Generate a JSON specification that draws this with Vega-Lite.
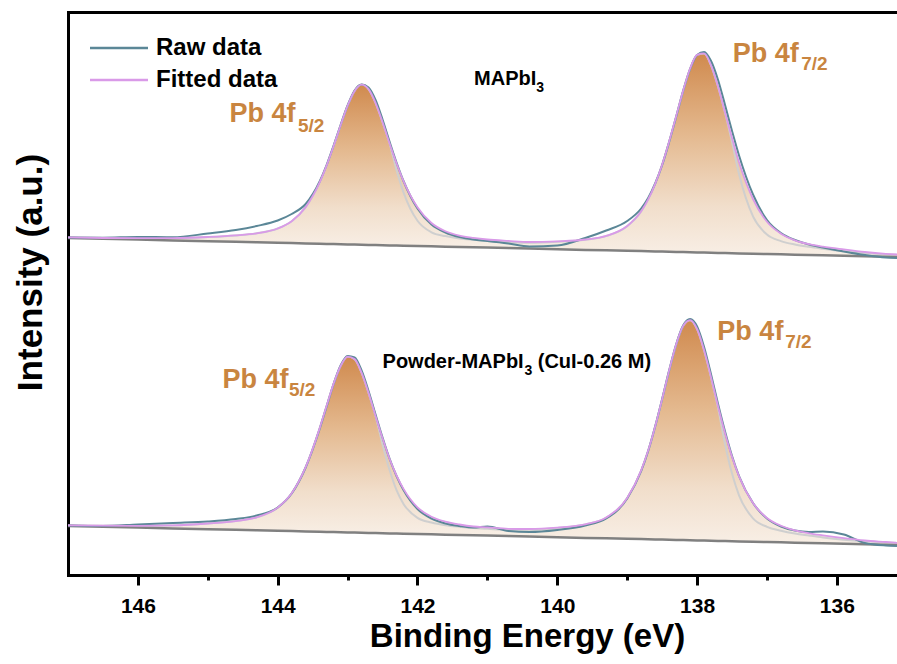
{
  "$schema": "https://vega.github.io/schema/vega-lite/v6.json",
  "width": 829,
  "height": 563,
  "autosize": {"type": "none"},
  "padding": {"left": 68, "top": 12, "right": 0, "bottom": 89},
  "config": {
    "font": "Liberation Sans",
    "view": {"stroke": null},
    "axis": {"grid": false},
    "axisLeft": {"domainColor": "black", "domainWidth": 3, "domainCap": "square", "ticks": false, "labels": false,
      "titleFontSize": 35, "titleFontWeight": "bold", "titleColor": "black", "titleFont": "Liberation Sans",
      "titleX": -27, "titleY": 260, "titleBaseline": "alphabetic", "titleAlign": "center", "titleAngle": -90}
  },
  "data": {
    "values": [
      {"s":"top","x":147.0,"base":337.0,"fit":337.6,"raw":337.5,"comp":337.6},
      {"s":"top","x":146.5,"base":336.2,"fit":337.0,"raw":337.3,"comp":337.0},
      {"s":"top","x":146.0,"base":335.4,"fit":336.8,"raw":338.0,"comp":336.8},
      {"s":"top","x":145.5,"base":334.6,"fit":336.9,"raw":337.8,"comp":336.9},
      {"s":"top","x":145.0,"base":333.8,"fit":338.0,"raw":341.5,"comp":338.0},
      {"s":"top","x":144.6,"base":333.2,"fit":339.6,"raw":345.0,"comp":339.6},
      {"s":"top","x":144.3,"base":332.7,"fit":341.7,"raw":349.0,"comp":341.7},
      {"s":"top","x":144.0,"base":332.2,"fit":346.5,"raw":354.5,"comp":346.5},
      {"s":"top","x":143.8,"base":331.9,"fit":353.8,"raw":361.0,"comp":353.8},
      {"s":"top","x":143.6,"base":331.6,"fit":367.9,"raw":371.0,"comp":367.9},
      {"s":"top","x":143.4,"base":331.2,"fit":392.6,"raw":393.5,"comp":392.6},
      {"s":"top","x":143.3,"base":331.1,"fit":409.6,"raw":410.0,"comp":409.6},
      {"s":"top","x":143.2,"base":330.9,"fit":429.0,"raw":429.5,"comp":429.0},
      {"s":"top","x":143.1,"base":330.7,"fit":449.7,"raw":450.0,"comp":449.7},
      {"s":"top","x":143.0,"base":330.6,"fit":469.3,"raw":469.5,"comp":469.3},
      {"s":"top","x":142.9,"base":330.4,"fit":484.1,"raw":484.5,"comp":484.1},
      {"s":"top","x":142.8,"base":330.3,"fit":490.4,"raw":490.5,"comp":490.4},
      {"s":"top","x":142.7,"base":330.1,"fit":485.9,"raw":487.5,"comp":485.9},
      {"s":"top","x":142.6,"base":330.0,"fit":472.2,"raw":475.0,"comp":472.2},
      {"s":"top","x":142.5,"base":329.8,"fit":453.0,"raw":455.5,"comp":453.0},
      {"s":"top","x":142.4,"base":329.6,"fit":431.8,"raw":433.5,"comp":431.8},
      {"s":"top","x":142.3,"base":329.5,"fit":411.8,"raw":412.5,"comp":405.1},
      {"s":"top","x":142.2,"base":329.3,"fit":393.9,"raw":394.0,"comp":382.7},
      {"s":"top","x":142.0,"base":329.0,"fit":367.7,"raw":366.5,"comp":354.2},
      {"s":"top","x":141.8,"base":328.7,"fit":352.0,"raw":350.5,"comp":342.7},
      {"s":"top","x":141.6,"base":328.3,"fit":343.7,"raw":342.5,"comp":338.9},
      {"s":"top","x":141.4,"base":328.0,"fit":339.4,"raw":338.0,"comp":336.5},
      {"s":"top","x":141.2,"base":327.7,"fit":337.1,"raw":335.5,"comp":335.2},
      {"s":"top","x":141.0,"base":327.4,"fit":335.5,"raw":334.0,"comp":334.1},
      {"s":"top","x":140.7,"base":326.9,"fit":334.1,"raw":331.5,"comp":332.9},
      {"s":"top","x":140.4,"base":326.4,"fit":333.0,"raw":328.5,"comp":332.2},
      {"s":"top","x":140.0,"base":325.8,"fit":333.7,"raw":329.5,"comp":333.2},
      {"s":"top","x":139.6,"base":325.1,"fit":335.5,"raw":337.0,"comp":335.3},
      {"s":"top","x":139.3,"base":324.7,"fit":339.1,"raw":344.5,"comp":338.9},
      {"s":"top","x":139.0,"base":324.2,"fit":349.0,"raw":354.0,"comp":348.8},
      {"s":"top","x":138.8,"base":323.9,"fit":363.8,"raw":366.5,"comp":363.6},
      {"s":"top","x":138.7,"base":323.7,"fit":375.6,"raw":377.0,"comp":375.4},
      {"s":"top","x":138.6,"base":323.5,"fit":391.2,"raw":391.5,"comp":391.0},
      {"s":"top","x":138.5,"base":323.4,"fit":410.2,"raw":410.0,"comp":410.0},
      {"s":"top","x":138.4,"base":323.2,"fit":433.4,"raw":433.0,"comp":433.2},
      {"s":"top","x":138.3,"base":323.0,"fit":458.6,"raw":458.0,"comp":458.4},
      {"s":"top","x":138.2,"base":322.9,"fit":484.3,"raw":484.0,"comp":484.1},
      {"s":"top","x":138.1,"base":322.7,"fit":506.5,"raw":506.0,"comp":506.3},
      {"s":"top","x":138.0,"base":322.6,"fit":520.2,"raw":520.0,"comp":520.0},
      {"s":"top","x":137.9,"base":322.4,"fit":521.6,"raw":523.0,"comp":521.4},
      {"s":"top","x":137.8,"base":322.3,"fit":509.6,"raw":514.0,"comp":509.6},
      {"s":"top","x":137.7,"base":322.1,"fit":488.4,"raw":495.0,"comp":488.4},
      {"s":"top","x":137.6,"base":321.9,"fit":462.6,"raw":470.0,"comp":462.6},
      {"s":"top","x":137.5,"base":321.8,"fit":436.9,"raw":444.0,"comp":432.9},
      {"s":"top","x":137.4,"base":321.6,"fit":412.7,"raw":419.5,"comp":400.9},
      {"s":"top","x":137.2,"base":321.3,"fit":376.0,"raw":380.5,"comp":358.6},
      {"s":"top","x":137.0,"base":321.0,"fit":353.2,"raw":355.0,"comp":340.4},
      {"s":"top","x":136.8,"base":320.7,"fit":341.3,"raw":342.0,"comp":333.9},
      {"s":"top","x":136.6,"base":320.3,"fit":334.7,"raw":335.0,"comp":330.5},
      {"s":"top","x":136.4,"base":320.0,"fit":330.8,"raw":330.5,"comp":328.2},
      {"s":"top","x":136.2,"base":319.7,"fit":328.3,"raw":327.5,"comp":326.3},
      {"s":"top","x":135.9,"base":319.2,"fit":325.5,"raw":323.5,"comp":323.7},
      {"s":"top","x":135.6,"base":318.7,"fit":323.0,"raw":320.0,"comp":321.8},
      {"s":"top","x":135.3,"base":318.3,"fit":321.2,"raw":317.5,"comp":320.6},
      {"s":"top","x":135.14,"base":318.0,"fit":320.5,"raw":317.0,"comp":320.1},
      {"s":"bot","x":147.0,"base":49.0,"fit":49.7,"raw":49.5,"comp":49.7},
      {"s":"bot","x":146.5,"base":48.2,"fit":49.3,"raw":49.0,"comp":49.3},
      {"s":"bot","x":146.0,"base":47.4,"fit":49.2,"raw":50.5,"comp":49.2},
      {"s":"bot","x":145.5,"base":46.6,"fit":49.6,"raw":52.0,"comp":49.6},
      {"s":"bot","x":145.0,"base":45.8,"fit":51.5,"raw":53.5,"comp":51.5},
      {"s":"bot","x":144.6,"base":45.2,"fit":53.9,"raw":56.0,"comp":53.9},
      {"s":"bot","x":144.3,"base":44.7,"fit":57.7,"raw":59.5,"comp":57.7},
      {"s":"bot","x":144.0,"base":44.2,"fit":67.4,"raw":67.5,"comp":67.4},
      {"s":"bot","x":143.8,"base":43.9,"fit":81.7,"raw":81.5,"comp":81.7},
      {"s":"bot","x":143.6,"base":43.6,"fit":107.8,"raw":107.5,"comp":107.8},
      {"s":"bot","x":143.4,"base":43.2,"fit":146.6,"raw":146.0,"comp":146.6},
      {"s":"bot","x":143.3,"base":43.1,"fit":169.2,"raw":168.5,"comp":169.2},
      {"s":"bot","x":143.2,"base":42.9,"fit":191.4,"raw":191.0,"comp":191.4},
      {"s":"bot","x":143.1,"base":42.7,"fit":209.0,"raw":209.5,"comp":209.0},
      {"s":"bot","x":143.0,"base":42.6,"fit":218.4,"raw":219.0,"comp":218.4},
      {"s":"bot","x":142.9,"base":42.4,"fit":215.9,"raw":217.5,"comp":215.9},
      {"s":"bot","x":142.8,"base":42.3,"fit":202.3,"raw":204.5,"comp":202.3},
      {"s":"bot","x":142.7,"base":42.1,"fit":182.1,"raw":184.0,"comp":182.1},
      {"s":"bot","x":142.6,"base":42.0,"fit":159.1,"raw":160.5,"comp":159.1},
      {"s":"bot","x":142.5,"base":41.8,"fit":136.7,"raw":137.5,"comp":130.6},
      {"s":"bot","x":142.4,"base":41.6,"fit":116.3,"raw":116.5,"comp":105.2},
      {"s":"bot","x":142.3,"base":41.5,"fit":99.5,"raw":99.0,"comp":84.8},
      {"s":"bot","x":142.2,"base":41.3,"fit":86.1,"raw":85.0,"comp":71.1},
      {"s":"bot","x":142.0,"base":41.0,"fit":67.6,"raw":66.0,"comp":57.2},
      {"s":"bot","x":141.8,"base":40.7,"fit":58.3,"raw":56.5,"comp":52.5},
      {"s":"bot","x":141.6,"base":40.3,"fit":53.4,"raw":51.5,"comp":49.8},
      {"s":"bot","x":141.4,"base":40.0,"fit":50.5,"raw":49.0,"comp":48.2},
      {"s":"bot","x":141.2,"base":39.7,"fit":48.5,"raw":47.5,"comp":47.0},
      {"s":"bot","x":141.0,"base":39.4,"fit":47.6,"raw":48.5,"comp":46.2},
      {"s":"bot","x":140.7,"base":38.9,"fit":46.2,"raw":44.0,"comp":45.2},
      {"s":"bot","x":140.4,"base":38.4,"fit":46.0,"raw":43.0,"comp":45.3},
      {"s":"bot","x":140.0,"base":37.8,"fit":47.4,"raw":45.0,"comp":47.1},
      {"s":"bot","x":139.6,"base":37.1,"fit":50.7,"raw":49.5,"comp":50.5},
      {"s":"bot","x":139.3,"base":36.7,"fit":57.5,"raw":56.5,"comp":57.3},
      {"s":"bot","x":139.0,"base":36.2,"fit":77.1,"raw":76.5,"comp":76.9},
      {"s":"bot","x":138.8,"base":35.9,"fit":104.6,"raw":104.0,"comp":104.4},
      {"s":"bot","x":138.7,"base":35.7,"fit":124.4,"raw":124.0,"comp":124.2},
      {"s":"bot","x":138.6,"base":35.5,"fit":148.6,"raw":148.5,"comp":148.4},
      {"s":"bot","x":138.5,"base":35.4,"fit":175.9,"raw":176.0,"comp":175.7},
      {"s":"bot","x":138.4,"base":35.2,"fit":204.6,"raw":204.5,"comp":204.4},
      {"s":"bot","x":138.3,"base":35.0,"fit":230.5,"raw":230.5,"comp":230.3},
      {"s":"bot","x":138.2,"base":34.9,"fit":249.1,"raw":249.5,"comp":248.9},
      {"s":"bot","x":138.1,"base":34.7,"fit":254.9,"raw":256.0,"comp":254.7},
      {"s":"bot","x":138.0,"base":34.6,"fit":246.0,"raw":248.5,"comp":245.8},
      {"s":"bot","x":137.9,"base":34.4,"fit":225.0,"raw":228.0,"comp":224.8},
      {"s":"bot","x":137.8,"base":34.3,"fit":197.8,"raw":200.5,"comp":197.6},
      {"s":"bot","x":137.7,"base":34.1,"fit":168.8,"raw":171.0,"comp":167.3},
      {"s":"bot","x":137.6,"base":33.9,"fit":141.8,"raw":143.5,"comp":130.8},
      {"s":"bot","x":137.5,"base":33.8,"fit":118.1,"raw":119.0,"comp":101.4},
      {"s":"bot","x":137.4,"base":33.6,"fit":98.6,"raw":99.0,"comp":79.7},
      {"s":"bot","x":137.2,"base":33.3,"fit":71.9,"raw":72.0,"comp":56.7},
      {"s":"bot","x":137.0,"base":33.0,"fit":57.0,"raw":56.5,"comp":48.2},
      {"s":"bot","x":136.8,"base":32.7,"fit":49.2,"raw":48.5,"comp":44.3},
      {"s":"bot","x":136.6,"base":32.3,"fit":44.6,"raw":44.5,"comp":41.5},
      {"s":"bot","x":136.4,"base":32.0,"fit":41.7,"raw":43.0,"comp":39.5},
      {"s":"bot","x":136.2,"base":31.7,"fit":39.6,"raw":43.5,"comp":37.6},
      {"s":"bot","x":135.9,"base":31.2,"fit":36.8,"raw":40.5,"comp":35.3},
      {"s":"bot","x":135.6,"base":30.7,"fit":34.5,"raw":32.0,"comp":33.7},
      {"s":"bot","x":135.3,"base":30.3,"fit":33.0,"raw":29.5,"comp":32.6},
      {"s":"bot","x":135.14,"base":30.0,"fit":32.2,"raw":29.0,"comp":32.1}
    ]
  },
  "layer": [
    {
      "transform": [{"filter": "datum.x >= 140.4"}],
      "mark": {"type": "area", "interpolate": "monotone",
        "color": {"gradient": "linear", "x1": 0, "y1": 0, "x2": 0, "y2": 1,
          "stops": [{"offset": 0, "color": "#D08A4E"}, {"offset": 0.4, "color": "#E4B98F"}, {"offset": 0.75, "color": "#F1DECB"}, {"offset": 1, "color": "#F8EFE6"}]}},
      "encoding": {
        "x": {"field": "x", "type": "quantitative", "scale": {"domain": [135.14, 147], "reverse": true, "nice": false, "zero": false},
          "axis": {"orient": "bottom", "values": [136,137,138,139,140,141,142,143,144,145,146],
            "labelExpr": "datum.value % 2 === 0 ? datum.label : ''",
            "domainColor": "black", "domainWidth": 3, "domainCap": "square",
            "tickColor": "black", "tickWidth": 3,
            "tickSize": {"condition": {"test": "datum.value % 2 === 0", "value": 10}, "value": 5},
            "labelFontSize": 21, "labelFontWeight": "bold", "labelColor": "black", "labelPadding": 10, "labelFont": "Liberation Sans",
            "title": "Binding Energy (eV)", "titleFontSize": 33, "titleFontWeight": "bold", "titleColor": "black", "titleFont": "Liberation Sans",
            "titleX": 459, "titleY": 71, "titleBaseline": "alphabetic", "titleAlign": "center"}},
        "y": {"field": "fit", "type": "quantitative", "scale": {"domain": [0, 563], "nice": false, "zero": false}, "title": "Intensity (a.u.)"},
        "y2": {"field": "base"},
        "detail": {"field": "s"}
      }
    },
    {
      "transform": [{"filter": "datum.x <= 140.4"}],
      "mark": {"type": "area", "interpolate": "monotone",
        "color": {"gradient": "linear", "x1": 0, "y1": 0, "x2": 0, "y2": 1,
          "stops": [{"offset": 0, "color": "#D08A4E"}, {"offset": 0.4, "color": "#E4B98F"}, {"offset": 0.75, "color": "#F1DECB"}, {"offset": 1, "color": "#F8EFE6"}]}},
      "encoding": {
        "x": {"field": "x", "type": "quantitative", "scale": {"domain": [135.14, 147], "reverse": true, "nice": false, "zero": false}, "axis": null},
        "y": {"field": "fit", "type": "quantitative", "scale": {"domain": [0, 563], "nice": false, "zero": false}, "title": "Intensity (a.u.)"},
        "y2": {"field": "base"},
        "detail": {"field": "s"}
      }
    },
    {
      "mark": {"type": "line", "interpolate": "monotone", "color": "#CFCFCF", "strokeWidth": 2},
      "encoding": {
        "x": {"field": "x", "type": "quantitative", "scale": {"domain": [135.14, 147], "reverse": true, "nice": false, "zero": false}, "axis": null},
        "y": {"field": "comp", "type": "quantitative", "scale": {"domain": [0, 563], "nice": false, "zero": false}, "title": "Intensity (a.u.)"},
        "detail": {"field": "s"}
      }
    },
    {
      "mark": {"type": "line", "color": "#808080", "strokeWidth": 2.5},
      "encoding": {
        "x": {"field": "x", "type": "quantitative", "scale": {"domain": [135.14, 147], "reverse": true, "nice": false, "zero": false},
          "axis": {"orient": "top", "labels": false, "ticks": false, "title": null, "domainColor": "black", "domainWidth": 3, "domainCap": "square"}},
        "y": {"field": "base", "type": "quantitative", "scale": {"domain": [0, 563], "nice": false, "zero": false}, "title": "Intensity (a.u.)"},
        "detail": {"field": "s"}
      }
    },
    {
      "mark": {"type": "line", "interpolate": "monotone", "strokeWidth": 2},
      "encoding": {
        "x": {"field": "x", "type": "quantitative", "scale": {"domain": [135.14, 147], "reverse": true, "nice": false, "zero": false}, "axis": null},
        "y": {"field": "raw", "type": "quantitative", "scale": {"domain": [0, 563], "nice": false, "zero": false}, "title": "Intensity (a.u.)"},
        "detail": {"field": "s"},
        "color": {"datum": "Raw data", "scale": {"domain": ["Raw data", "Fitted data"], "range": ["#5B8797", "#D99AE8"]},
          "legend": {"orient": "none", "legendX": 35, "legendY": 20, "title": null, "symbolType": "M-2,0H2", "symbolSize": 841, "symbolStrokeWidth": 2.5,
            "labelFontSize": 24, "labelFontWeight": "bold", "labelColor": "black", "labelFont": "Liberation Sans", "labelOffset": 21, "rowPadding": 4, "padding": 0}}
      }
    },
    {
      "mark": {"type": "line", "interpolate": "monotone", "strokeWidth": 1.8},
      "encoding": {
        "x": {"field": "x", "type": "quantitative", "scale": {"domain": [135.14, 147], "reverse": true, "nice": false, "zero": false}, "axis": null},
        "y": {"field": "fit", "type": "quantitative", "scale": {"domain": [0, 563], "nice": false, "zero": false}, "title": "Intensity (a.u.)"},
        "detail": {"field": "s"},
        "color": {"datum": "Fitted data"}
      }
    },
    {
      "data": {"values": [
        {"x": 144.69, "y": 453, "t": "Pb 4f"},
        {"x": 137.49, "y": 513, "t": "Pb 4f"},
        {"x": 144.79, "y": 187, "t": "Pb 4f"},
        {"x": 137.71, "y": 235, "t": "Pb 4f"}
      ]},
      "mark": {"type": "text", "align": "left", "baseline": "alphabetic", "font": "Liberation Sans", "fontWeight": "bold", "fontSize": 27, "color": "#C98540"},
      "encoding": {
        "x": {"field": "x", "type": "quantitative", "scale": {"domain": [135.14, 147], "reverse": true, "nice": false, "zero": false}, "axis": null},
        "y": {"field": "y", "type": "quantitative", "scale": {"domain": [0, 563], "nice": false, "zero": false}, "title": "Intensity (a.u.)"},
        "text": {"field": "t"}
      }
    },
    {
      "data": {"values": [
        {"x": 143.71, "y": 443, "t": "5/2"},
        {"x": 136.51, "y": 505, "t": "7/2"},
        {"x": 143.84, "y": 179, "t": "5/2"},
        {"x": 136.74, "y": 227, "t": "7/2"}
      ]},
      "mark": {"type": "text", "align": "left", "baseline": "alphabetic", "font": "Liberation Sans", "fontWeight": "bold", "fontSize": 19, "color": "#C98540"},
      "encoding": {
        "x": {"field": "x", "type": "quantitative", "scale": {"domain": [135.14, 147], "reverse": true, "nice": false, "zero": false}, "axis": null},
        "y": {"field": "y", "type": "quantitative", "scale": {"domain": [0, 563], "nice": false, "zero": false}, "title": "Intensity (a.u.)"},
        "text": {"field": "t"}
      }
    },
    {
      "data": {"values": [
        {"x": 141.19, "y": 490, "t": "MAPbI"},
        {"x": 142.50, "y": 207, "t": "Powder-MAPbI"},
        {"x": 140.28, "y": 207, "t": "(CuI-0.26 M)"}
      ]},
      "mark": {"type": "text", "align": "left", "baseline": "alphabetic", "font": "Liberation Sans", "fontWeight": "bold", "fontSize": 20, "color": "black"},
      "encoding": {
        "x": {"field": "x", "type": "quantitative", "scale": {"domain": [135.14, 147], "reverse": true, "nice": false, "zero": false}, "axis": null},
        "y": {"field": "y", "type": "quantitative", "scale": {"domain": [0, 563], "nice": false, "zero": false}, "title": "Intensity (a.u.)"},
        "text": {"field": "t"}
      }
    },
    {
      "data": {"values": [
        {"x": 140.30, "y": 483, "t": "3"},
        {"x": 140.47, "y": 200, "t": "3"}
      ]},
      "mark": {"type": "text", "align": "left", "baseline": "alphabetic", "font": "Liberation Sans", "fontWeight": "bold", "fontSize": 14, "color": "black"},
      "encoding": {
        "x": {"field": "x", "type": "quantitative", "scale": {"domain": [135.14, 147], "reverse": true, "nice": false, "zero": false}, "axis": null},
        "y": {"field": "y", "type": "quantitative", "scale": {"domain": [0, 563], "nice": false, "zero": false}, "title": "Intensity (a.u.)"},
        "text": {"field": "t"}
      }
    }
  ],
  "resolve": {"axis": {"x": "independent"}}
}
